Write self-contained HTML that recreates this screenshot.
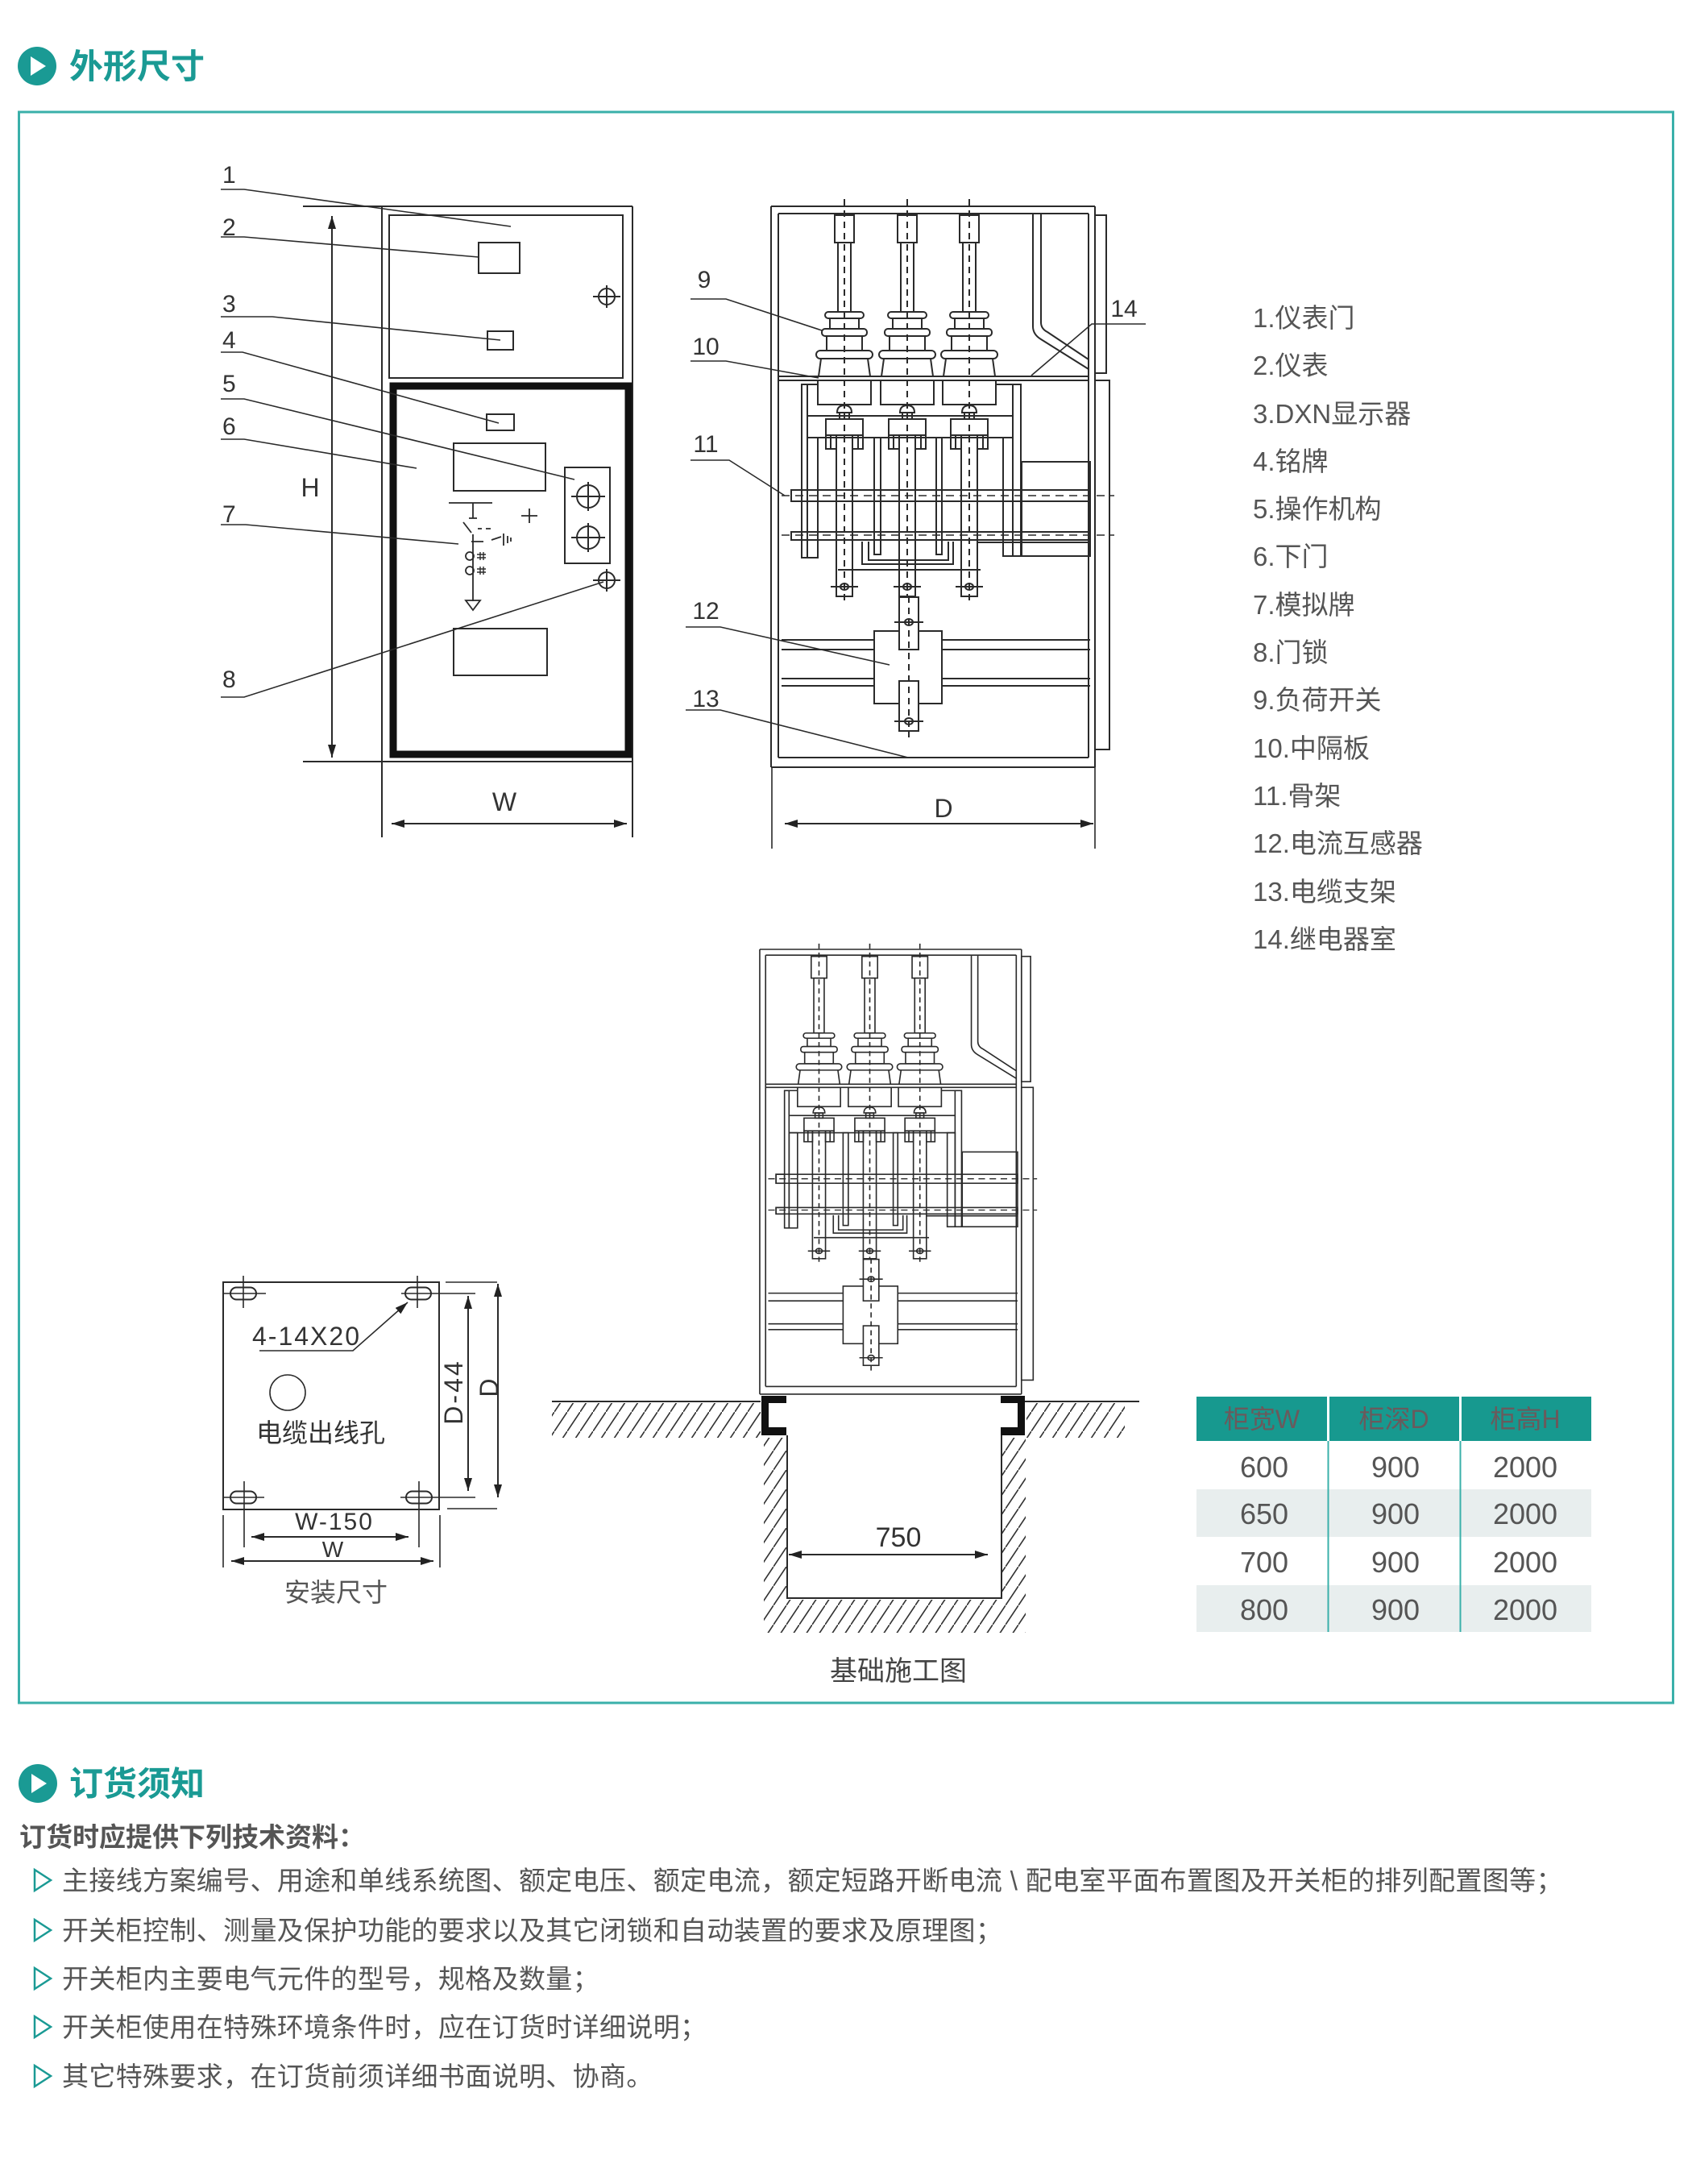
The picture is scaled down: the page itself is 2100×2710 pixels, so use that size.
<!DOCTYPE html>
<html><head><meta charset="utf-8"><style>
html,body{margin:0;padding:0;background:#fff;}
svg{display:block;}
text{font-family:"Liberation Sans","Noto Sans CJK SC",sans-serif;}
</style></head><body>
<svg width="2100" height="2710" viewBox="0 0 2100 2710" xmlns="http://www.w3.org/2000/svg">
<defs>
<marker id="ar" viewBox="0 0 16 10" refX="16" refY="5" markerWidth="16" markerHeight="10" markerUnits="userSpaceOnUse" orient="auto-start-reverse"><path d="M0,0 L16,5 L0,10 Z" fill="#222"/></marker>
<pattern id="hatch" patternUnits="userSpaceOnUse" width="16" height="24"><path d="M-4,30 L20,-6" stroke="#333" stroke-width="1.6"/></pattern>
<g id="ins" fill="none" stroke="#2a2a2a" stroke-width="2">
<rect x="-12" y="267" width="24" height="34"/>
<rect x="-8" y="301" width="16" height="86"/>
<rect x="-18" y="395" width="36" height="13"/>
<rect x="-22" y="417" width="44" height="18"/>
<rect x="-24" y="387" width="48" height="8" rx="4" fill="#fff"/>
<rect x="-28" y="408" width="56" height="9" rx="4" fill="#fff"/>
<rect x="-35" y="435" width="70" height="10" rx="5" fill="#fff"/>
<path d="M-29,445 L-32,467 M29,445 L32,467"/>
<rect x="-33" y="472" width="66" height="30"/>
<path d="M-9,512 Q-9,503 0,503 Q9,503 9,512 Z"/>
<rect x="-6" y="512" width="12" height="8"/>
<rect x="-23" y="520" width="46" height="20"/>
<rect x="-23" y="540" width="13" height="17"/>
<rect x="10" y="540" width="13" height="17"/>
<path d="M-17,540 V557 M17,540 V557"/>
<rect x="-10" y="540" width="20" height="200"/>
<ellipse cx="0" cy="728" rx="5" ry="4"/>
<path d="M-17,728 H17"/>
<path d="M0,247 V745" stroke-dasharray="8 6"/>
</g>
<g id="sv" fill="none" stroke="#2a2a2a" stroke-width="2">
<path d="M957,256 V952 M966,265 V940 M1351,265 V940 M1359,256 V952 M957,256 H1359 M966,265 H1351 M966,940 H1351 M957,952 H1359"/>
<rect x="1359" y="267" width="14" height="196"/>
<rect x="1359" y="472" width="18" height="458"/>
<path d="M966,467 H1351 M966,472 H1351"/>
<path d="M1282,265 V405 Q1282,415 1292,421 L1351,458 M1292,265 V400 Q1292,408 1300,412 L1351,446"/>
<path d="M1003,516 H1257 M1002,543 H1257"/>
<rect x="995" y="477" width="7" height="215"/>
<rect x="1002" y="543" width="13" height="149"/>
<path d="M995,477 H1015 M1236,477 H1267"/>
<rect x="1257" y="477" width="10" height="213"/>
<rect x="1245" y="543" width="12" height="147"/>
<rect x="1268" y="573" width="85" height="117"/>
<rect x="982" y="608" width="371" height="14"/>
<rect x="982" y="608" width="13" height="14"/>
<rect x="982" y="660" width="371" height="10"/>
<rect x="982" y="660" width="13" height="10"/>
<path d="M970,615 H1383 M970,664 H1383" stroke-dasharray="10 7" stroke-width="1.6"/>
<path d="M1213,673 H1353"/>
<rect x="1085" y="543" width="8" height="145"/>
<rect x="1162" y="543" width="7" height="145"/>
<path d="M1070,672 V700 H1183 V672 M1078,672 V695 H1177 V672"/>
<path d="M1040,707 H1217"/>
<use href="#ins" x="1048"/>
<use href="#ins" x="1126"/>
<use href="#ins" x="1203"/>
<path d="M970,794 H1085 M970,806 H1085 M1169,794 H1353 M1169,806 H1353 M970,842 H1085 M970,851 H1085 M1169,842 H1353 M1169,851 H1353"/>
<rect x="1085" y="783" width="84" height="90" fill="#fff"/>
<rect x="1116" y="741" width="24" height="65" fill="#fff"/>
<rect x="1116" y="845" width="24" height="62" fill="#fff"/>
<ellipse cx="1128" cy="772" rx="5" ry="4"/>
<ellipse cx="1128" cy="895" rx="5" ry="4"/>
<path d="M1110,772 H1146 M1110,895 H1146"/>
<path d="M1128,740 V915" stroke-dasharray="8 6"/>
</g>
</defs>

<!-- Heading 1 -->
<circle cx="46" cy="82" r="24" fill="#1a9a94"/>
<path d="M38,70 L38,94 L57,82 Z" fill="#fff"/>
<text x="86" y="97" font-size="42" font-weight="bold" fill="#1a9a94">外形尺寸</text>

<rect x="23.5" y="139" width="2053" height="1974" fill="none" stroke="#3ab0aa" stroke-width="3"/>

<!-- FRONT VIEW -->
<g fill="none" stroke="#2a2a2a" stroke-width="2">
<path d="M474,256 V1039 M785,256 V1039 M474,256 H785 M376,256 H474 M376,945 H785"/>
<rect x="483" y="267" width="290" height="202"/>
<rect x="488" y="479" width="292" height="457" stroke="#111" stroke-width="9"/>
<rect x="594" y="301" width="51" height="38"/>
<circle cx="753" cy="368" r="10"/><path d="M736,368 H770 M753,354 V382"/>
<rect x="605" y="411" width="32" height="23"/>
<rect x="604" y="514" width="34" height="20"/>
<rect x="563" y="550" width="114" height="59"/>
<rect x="701" y="580" width="56" height="119"/>
<circle cx="730" cy="616" r="14"/><path d="M709,616 H751 M730,598 V634"/>
<circle cx="730" cy="667" r="14"/><path d="M709,667 H751 M730,649 V685"/>
<circle cx="753" cy="720" r="10"/><path d="M736,720 H770 M753,706 V734"/>
<rect x="563" y="780" width="116" height="58"/>
<path d="M557,624 H611 M587,624 V643 M582,643 H592 M575,648 L585,661 M593,656 H598 M603,656 H609 M587,663 V746 M585,672 H600 M610,670 L622,666 M625,662 V677 M630,665 V674 M634,667 V672 M647,640 H667 M657,631 V649" stroke-width="1.8"/>
<circle cx="583" cy="690" r="5" stroke-width="1.8"/><circle cx="583" cy="708" r="5" stroke-width="1.8"/>
<path d="M592,688 H603 M592,692 H603 M596,685 V695 M600,685 V695 M592,706 H603 M592,710 H603 M596,703 V713 M600,703 V713" stroke-width="1.4"/>
<path d="M578,745 H596 L587,757 Z" stroke-width="1.8"/>
<!-- leaders -->
<path d="M274,235 H303 L634,281 M274,294 H303 L594,319 M274,393 H338 L621,422 M274,437 H301 L619,525 M274,495 H303 L713,595 M274,545 H303 L517,581 M274,651 H305 L569,675 M274,865 H303 L749,722" stroke-width="1.6"/>
<line x1="412" y1="268" x2="412" y2="940" marker-start="url(#ar)" marker-end="url(#ar)"/>
<line x1="486" y1="1022" x2="778" y2="1022" marker-start="url(#ar)" marker-end="url(#ar)"/>
</g>
<g font-size="30" fill="#333">
<text x="276" y="227">1</text><text x="276" y="292">2</text><text x="276" y="387">3</text><text x="276" y="432">4</text>
<text x="276" y="486">5</text><text x="276" y="539">6</text><text x="276" y="648">7</text><text x="276" y="853">8</text>
</g>
<text x="385" y="616" font-size="32" fill="#333" text-anchor="middle">H</text>
<text x="626" y="1006" font-size="32" fill="#333" text-anchor="middle">W</text>

<!-- SIDE VIEW -->
<use href="#sv"/>
<g fill="none" stroke="#2a2a2a" stroke-width="1.6">
<path d="M958,952 V1053 M1359,952 V1053"/>
<path d="M857,371 H901 L1020,410 M857,448 H901 L1016,469 M857,571 H905 L974,615 M851,778 H894 L1104,825 M851,881 H894 L1127,940 M1422,402 H1355 L1280,466"/>
<line x1="974" y1="1022" x2="1357" y2="1022" stroke-width="2" marker-start="url(#ar)" marker-end="url(#ar)"/>
</g>
<g font-size="30" fill="#333" text-anchor="middle">
<text x="874" y="357">9</text><text x="876" y="440">10</text><text x="876" y="561">11</text>
<text x="876" y="768">12</text><text x="876" y="877">13</text><text x="1395" y="393">14</text>
</g>
<text x="1171" y="1014" font-size="32" fill="#333" text-anchor="middle">D</text>

<!-- LEGEND -->
<g font-size="33" fill="#555">
<text x="1555" y="406">1.仪表门</text>
<text x="1555" y="465">2.仪表</text>
<text x="1555" y="525">3.DXN显示器</text>
<text x="1555" y="584">4.铭牌</text>
<text x="1555" y="643">5.操作机构</text>
<text x="1555" y="702">6.下门</text>
<text x="1555" y="762">7.模拟牌</text>
<text x="1555" y="821">8.门锁</text>
<text x="1555" y="880">9.负荷开关</text>
<text x="1555" y="940">10.中隔板</text>
<text x="1555" y="999">11.骨架</text>
<text x="1555" y="1058">12.电流互感器</text>
<text x="1555" y="1118">13.电缆支架</text>
<text x="1555" y="1177">14.继电器室</text>
</g>

<!-- FOUNDATION VIEW -->
<use href="#sv" transform="matrix(0.808 0 0 0.793 169.7 975)"/>
<g fill="none" stroke="#2a2a2a" stroke-width="2">
<path d="M685,1739 H944 M1272,1739 H1414"/>
<path d="M977,1781 V1983 H1243 V1781"/>
</g>
<rect x="685" y="1741" width="259" height="43" fill="url(#hatch)"/>
<rect x="1274" y="1741" width="122" height="43" fill="url(#hatch)"/>
<rect x="948" y="1784" width="28" height="242" fill="url(#hatch)"/>
<rect x="1244" y="1784" width="29" height="242" fill="url(#hatch)"/>
<rect x="976" y="1985" width="268" height="41" fill="url(#hatch)"/>
<path d="M945,1732 H976 V1741 H954 V1771 H976 V1781 H945 Z" fill="#111"/>
<path d="M1272,1732 H1242 V1741 H1263 V1771 H1242 V1781 H1272 Z" fill="#111"/>
<line x1="979" y1="1929" x2="1226" y2="1929" stroke="#2a2a2a" stroke-width="2" marker-start="url(#ar)" marker-end="url(#ar)"/>
<text x="1115" y="1919" font-size="34" fill="#333" text-anchor="middle">750</text>
<text x="1115" y="2085" font-size="34" fill="#444" text-anchor="middle">基础施工图</text>

<!-- INSTALL VIEW -->
<g fill="none" stroke="#2a2a2a" stroke-width="2">
<rect x="277" y="1591" width="268" height="282"/>
<rect x="286" y="1597.5" width="32" height="15" rx="7.5"/>
<rect x="503" y="1597.5" width="32" height="15" rx="7.5"/>
<rect x="286" y="1850.5" width="32" height="15" rx="7.5"/>
<rect x="504" y="1850.5" width="32" height="15" rx="7.5"/>
<path d="M302,1583 V1623 M278,1605 H330 M518,1583 V1623 M498,1605 H590 M303,1838 V1920 M278,1858 H328 M520,1838 V1920 M497,1858 H590" stroke-width="1.6"/>
<path d="M553,1591 H617 M555,1872 H617 M277,1880 V1945 M546,1880 V1945" stroke-width="1.6"/>
<circle cx="357" cy="1728" r="22" stroke-width="1.6"/>
<path d="M322,1676 H438 L506,1616" stroke-width="1.6" marker-end="url(#ar)"/>
<line x1="581" y1="1608" x2="581" y2="1850" marker-start="url(#ar)" marker-end="url(#ar)"/>
<line x1="618" y1="1593" x2="618" y2="1858" marker-start="url(#ar)" marker-end="url(#ar)"/>
<line x1="312" y1="1907" x2="507" y2="1907" marker-start="url(#ar)" marker-end="url(#ar)"/>
<line x1="287" y1="1937" x2="538" y2="1937" marker-start="url(#ar)" marker-end="url(#ar)"/>
</g>
<text x="313" y="1669" font-size="32" letter-spacing="2" fill="#333">4-14X20</text>
<text x="318" y="1789" font-size="32" fill="#333">电缆出线孔</text>
<text x="563" y="1727" font-size="32" letter-spacing="3" fill="#333" text-anchor="middle" transform="rotate(-90 563 1727)" dy="11">D-44</text>
<text x="607" y="1722" font-size="32" fill="#333" text-anchor="middle" transform="rotate(-90 607 1722)" dy="11">D</text>
<text x="415" y="1898" font-size="30" letter-spacing="2" fill="#333" text-anchor="middle">W-150</text>
<text x="413" y="1932" font-size="28" fill="#333" text-anchor="middle">W</text>
<text x="417" y="1987" font-size="32" fill="#555" text-anchor="middle">安装尺寸</text>

<!-- TABLE -->
<rect x="1485" y="1733" width="490" height="55" fill="#17998f"/>
<rect x="1647" y="1733" width="3" height="55" fill="#fff"/>
<rect x="1811" y="1733" width="3" height="55" fill="#fff"/>
<rect x="1485" y="1848" width="490" height="59" fill="#e8eeee"/>
<rect x="1485" y="1967" width="490" height="58" fill="#e8eeee"/>
<path d="M1648.5,1788 V2025 M1812.5,1788 V2025" stroke="#3ab0aa" stroke-width="2"/>
<g font-size="32" fill="#6a5a5c" text-anchor="middle">
<text x="1566" y="1772">柜宽W</text><text x="1730" y="1772">柜深D</text><text x="1893" y="1772">柜高H</text>
</g>
<g font-size="36" fill="#555" text-anchor="middle">
<text x="1569" y="1833">600</text><text x="1732" y="1833">900</text><text x="1893" y="1833">2000</text>
<text x="1569" y="1891">650</text><text x="1732" y="1891">900</text><text x="1893" y="1891">2000</text>
<text x="1569" y="1951">700</text><text x="1732" y="1951">900</text><text x="1893" y="1951">2000</text>
<text x="1569" y="2010">800</text><text x="1732" y="2010">900</text><text x="1893" y="2010">2000</text>
</g>

<!-- Heading 2 -->
<circle cx="47" cy="2213" r="24" fill="#1a9a94"/>
<path d="M39,2201 L39,2225 L58,2213 Z" fill="#fff"/>
<text x="86" y="2228" font-size="42" font-weight="bold" fill="#1a9a94">订货须知</text>
<text x="24" y="2291" font-size="33" font-weight="bold" fill="#555">订货时应提供下列技术资料：</text>
<g fill="none" stroke="#1a9a94" stroke-width="2.5">
<path d="M43,2320 L43,2346 L63,2333 Z"/>
<path d="M43,2382 L43,2408 L63,2395 Z"/>
<path d="M43,2442 L43,2468 L63,2455 Z"/>
<path d="M43,2502 L43,2528 L63,2515 Z"/>
<path d="M43,2563 L43,2589 L63,2576 Z"/>
</g>
<g font-size="33" fill="#555" letter-spacing="0.35">
<text x="77" y="2345">主接线方案编号、用途和单线系统图、额定电压、额定电流，额定短路开断电流 \ 配电室平面布置图及开关柜的排列配置图等；</text>
<text x="77" y="2407">开关柜控制、测量及保护功能的要求以及其它闭锁和自动装置的要求及原理图；</text>
<text x="77" y="2467">开关柜内主要电气元件的型号，规格及数量；</text>
<text x="77" y="2527">开关柜使用在特殊环境条件时，应在订货时详细说明；</text>
<text x="77" y="2588">其它特殊要求，在订货前须详细书面说明、协商。</text>
</g>
</svg>
</body></html>
